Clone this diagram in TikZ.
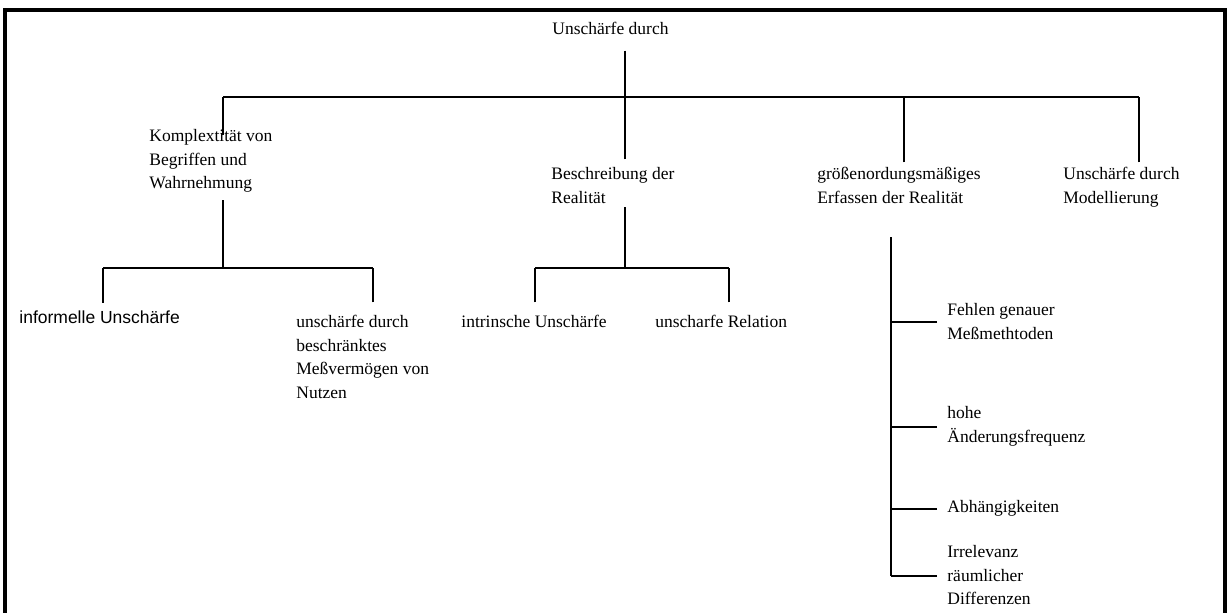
\documentclass[tikz,border=0pt]{standalone}
\usepackage{fontspec}
\setmainfont{Liberation Serif}
\newfontfamily\arialfont{Liberation Sans}
\usepackage{tikz}
\usetikzlibrary{positioning}

\begin{document}
\begin{tikzpicture}[
		x=0.5pt, y=-0.5pt
		,lbl/.style={anchor=base west, align=left, inner sep=0pt, font=\fontsize{8.75}{11.75}\selectfont}
		,sans/.style={font=\arialfont\fontsize{8.75}{11.75}\selectfont}
		,branch/.style={line width=1pt}
		,trunk/.style={line width=1.4pt}
		,frame/.style={line width=1.6pt}
	]
		\useasboundingbox (0,0) rectangle (1231,613);
		\draw[frame] (5,613) -- (5,10) -- (1225,10) -- (1225,613);

		\node[lbl] (root) at (552,35) {Unschärfe durch};
		\node[lbl] (kompl) at (149,189) {Komplextität von\\Begriffen und\\Wahrnehmung};
		\node[lbl] (beschr) at (551,203.5) {Beschreibung der\\Realität};
		\node[lbl] (groesse) at (817,203.5) {größenordungsmäßiges\\Erfassen der Realität};
		\node[lbl] (modell) at (1063,203.5) {Unschärfe durch\\Modellierung};
		\node[lbl, sans] (informell) at (19,324) {informelle Unschärfe};
		\node[lbl] (messv) at (296,398.5) {unschärfe durch\\beschränktes\\Meßvermögen von\\Nutzen};
		\node[lbl] (intr) at (461,328) {intrinsche Unschärfe};
		\node[lbl] (rel) at (655,328) {unscharfe Relation};
		\node[lbl] (fehlen) at (947,339.5) {Fehlen genauer\\Meßmethtoden};
		\node[lbl] (hohe) at (947,442.5) {hohe\\Änderungsfrequenz};
		\node[lbl] (abh) at (947,513) {Abhängigkeiten};
		\node[lbl] (irre) at (947,605) {Irrelevanz\\räumlicher\\Differenzen};

		\coordinate (top) at (625,97);
		\coordinate (k) at (223,97);
		\coordinate (g) at (904,97);
		\coordinate (m) at (1139,97);
		\coordinate (kj) at (223,268);
		\coordinate (kl) at (103,268);
		\coordinate (kr) at (373,268);
		\coordinate (bj) at (625,268);
		\coordinate (bl) at (535,268);
		\coordinate (br) at (729,268);
		\coordinate (gs) at (891,237);

		\draw[trunk] (root.south -| top) ++(0,15) -- (top);
		\draw[branch] (k) -- (m);
		\draw[branch] (kompl.north -| k) ++(0,6) -- (k);
		\draw[branch] (beschr.north -| top) ++(0,-8) -- (top);
		\draw[branch] (groesse.north -| g) ++(0,-5) -- (g);
		\draw[branch] (modell.north -| m) ++(0,-5) -- (m);

		\draw[branch] (kompl.south -| kj) ++(0,7) -- (kj);
		\draw[branch] (kl) -- (kr);
		\draw[branch] (informell.north -| kl) ++(0,-8) -- (kl);
		\draw[branch] (messv.north -| kr) ++(0,-13) -- (kr);

		\draw[branch] (beschr.south -| bj) ++(0,3) -- (bj);
		\draw[branch] (bl) -- (br);
		\draw[branch] (intr.north -| bl) ++(0,-13) -- (bl);
		\draw[branch] (rel.north -| br) ++(0,-13) -- (br);

		\draw[trunk] (groesse.south -| gs) ++(0,33) -- (gs |- irre.west);
		\draw[branch] (fehlen.west) ++(-10,0) -- (fehlen.west -| gs);
		\draw[branch] (hohe.west) ++(-10,0) -- (hohe.west -| gs);
		\draw[branch] (abh.west) ++(-10,0) -- (abh.west -| gs);
		\draw[branch] (irre.west) ++(-10,0) -- (irre.west -| gs);
	\end{tikzpicture}
\end{document}
